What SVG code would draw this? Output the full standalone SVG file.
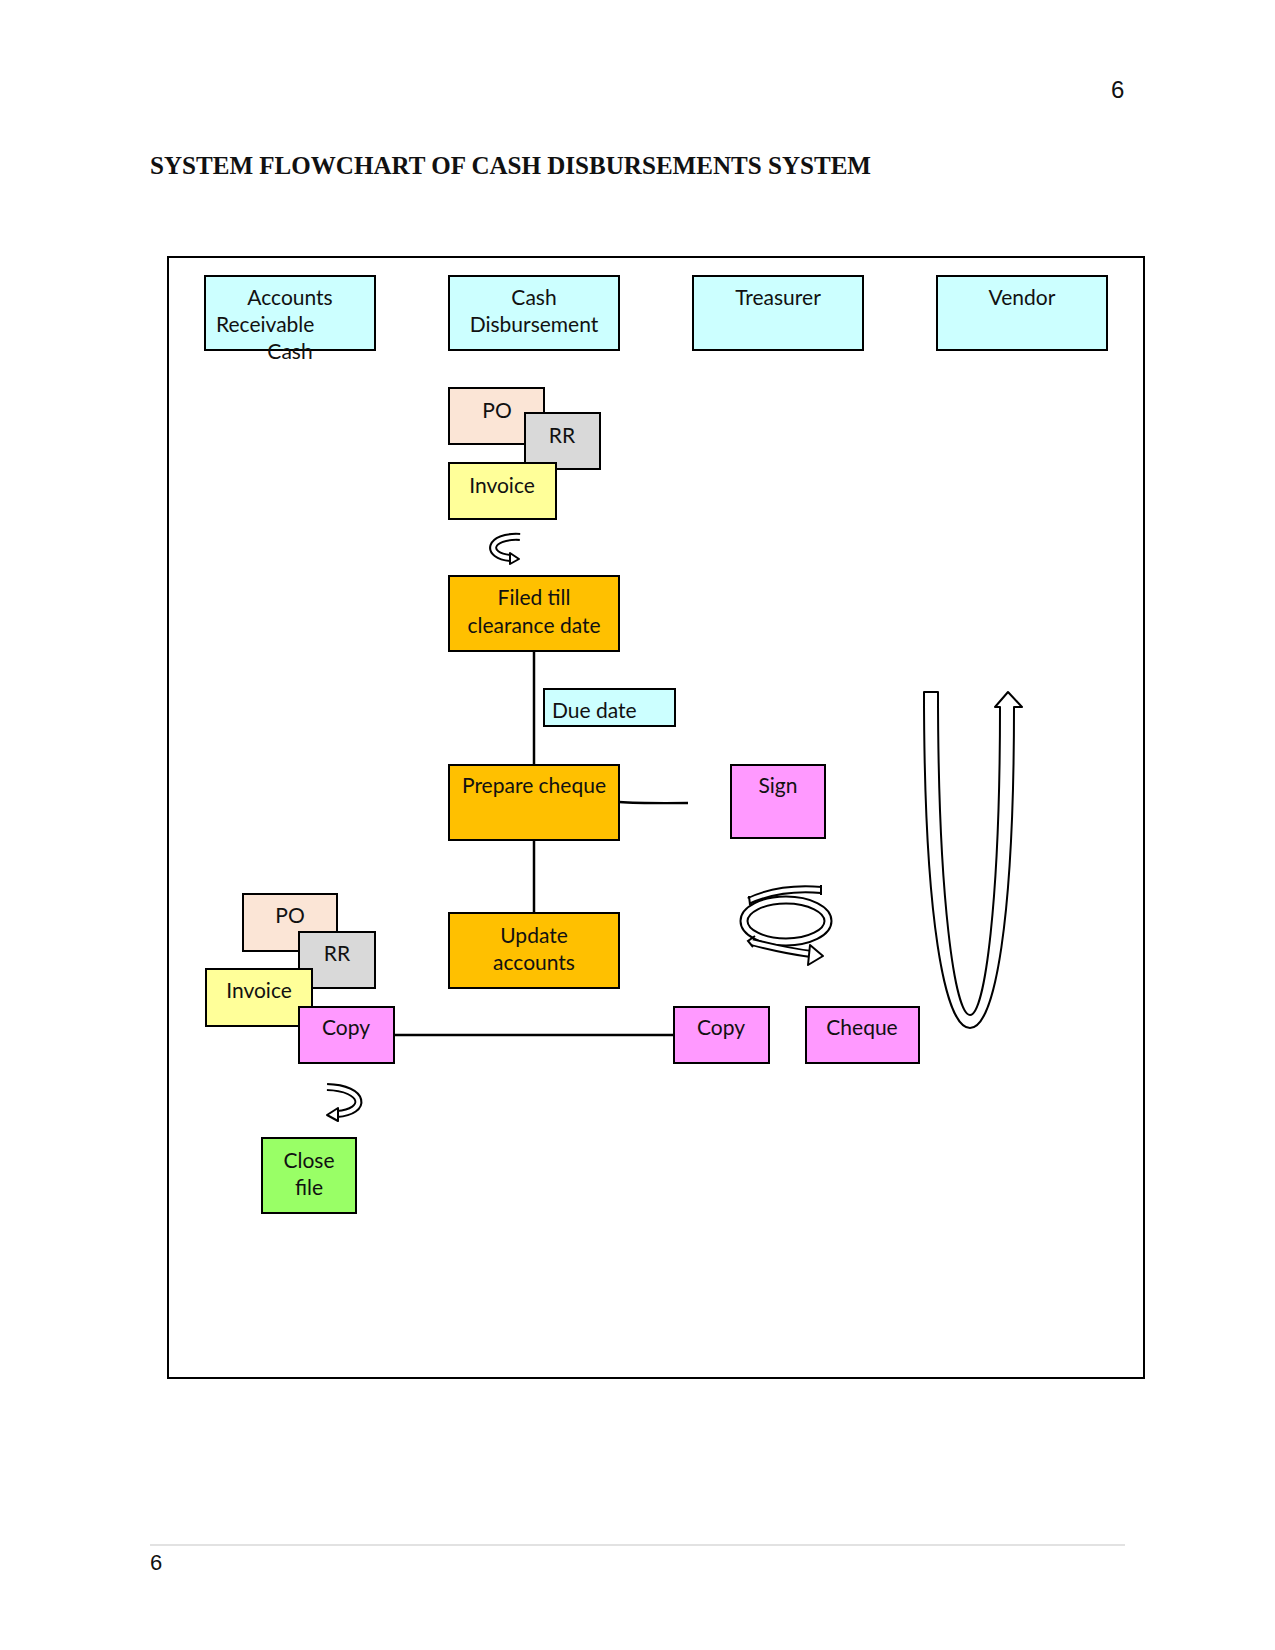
<svg xmlns="http://www.w3.org/2000/svg" width="1275" height="1650" viewBox="0 0 1275 1650">
  <style>
    .box { stroke: #000; stroke-width: 2; }
    .cyan { fill: #CCFFFF; }
    .peach { fill: #FBE5D6; }
    .grey { fill: #D9D9D9; }
    .yellow { fill: #FFFF99; }
    .orange { fill: #FFC000; }
    .pink { fill: #FF99FF; }
    .green { fill: #99FF66; }
    .lbl { font-family: Lato, "Liberation Sans", sans-serif; font-size: 21px; fill: #111; text-anchor: middle; }
    .lft { text-anchor: start; }
    .line { stroke: #000; stroke-width: 2.5; fill: none; }
    .band { fill: #fff; stroke: #000; stroke-width: 2; stroke-linejoin: round; }
    .bandOuter { fill: none; stroke: #000; stroke-width: 8; stroke-linecap: butt; }
    .bandInner { fill: none; stroke: #fff; stroke-width: 4; stroke-linecap: butt; }
  </style>

  <!-- page furniture -->
  <text x="1111" y="98" font-family="Liberation Sans, sans-serif" font-size="24" fill="#111">6</text>
  <text x="150" y="174" font-family="Liberation Serif, serif" font-weight="bold" font-size="25" fill="#111" textLength="721" lengthAdjust="spacingAndGlyphs">SYSTEM FLOWCHART OF CASH DISBURSEMENTS SYSTEM</text>
  <line x1="150" y1="1545" x2="1125" y2="1545" stroke="#D9D9D9" stroke-width="1.5"/>
  <text x="150" y="1570" font-family="Liberation Sans, sans-serif" font-size="22" fill="#111">6</text>

  <!-- frame -->
  <rect x="168" y="257" width="976" height="1121" fill="none" stroke="#000" stroke-width="2"/>

  <!-- connectors -->
  <g id="connectors">
    <line class="line" x1="534" y1="651" x2="534" y2="765"/>
    <line class="line" x1="534" y1="840" x2="534" y2="913"/>
    <path class="line" d="M619,802 Q640,803.5 688,803"/>
    <line class="line" x1="394" y1="1035" x2="674" y2="1035"/>
  </g>

  <!-- header nodes -->
  <g id="accounts-receivable-cash">
    <rect class="box cyan" x="205" y="276" width="170" height="74"/>
    <text class="lbl" x="290" y="305">Accounts</text>
    <text class="lbl lft" x="216" y="332">Receivable</text>
    <text class="lbl" x="290" y="359">Cash</text>
  </g>
  <g id="cash-disbursement">
    <rect class="box cyan" x="449" y="276" width="170" height="74"/>
    <text class="lbl" x="534" y="305">Cash</text>
    <text class="lbl" x="534" y="332">Disbursement</text>
  </g>
  <g id="treasurer">
    <rect class="box cyan" x="693" y="276" width="170" height="74"/>
    <text class="lbl" x="778" y="305">Treasurer</text>
  </g>
  <g id="vendor">
    <rect class="box cyan" x="937" y="276" width="170" height="74"/>
    <text class="lbl" x="1022" y="305">Vendor</text>
  </g>

  <!-- top document stack -->
  <g id="po-top">
    <rect class="box peach" x="449" y="388" width="95" height="56"/>
    <text class="lbl" x="497" y="418">PO</text>
  </g>
  <g id="rr-top">
    <rect class="box grey" x="525" y="413" width="75" height="56"/>
    <text class="lbl" x="562" y="443">RR</text>
  </g>
  <g id="invoice-top">
    <rect class="box yellow" x="449" y="463" width="107" height="56"/>
    <text class="lbl" x="502" y="493">Invoice</text>
  </g>

  <!-- top U-turn arrow -->
  <g id="uturn-top">
    <path class="bandOuter" d="M520,537 C488,535 484,556 511,558"/>
    <path class="bandInner" d="M521,537 C488,535 484,556 511,558"/>
    <polygon class="band" points="510,553 519,559 510,564"/>
  </g>

  <g id="filed-till-clearance-date">
    <rect class="box orange" x="449" y="576" width="170" height="75"/>
    <text class="lbl" x="534" y="605">Filed till</text>
    <text class="lbl" x="534" y="633">clearance date</text>
  </g>
  <g id="due-date">
    <rect class="box cyan" x="544" y="689" width="131" height="37"/>
    <text class="lbl lft" x="552" y="718">Due date</text>
  </g>
  <g id="prepare-cheque">
    <rect class="box orange" x="449" y="765" width="170" height="75"/>
    <text class="lbl" x="534" y="793">Prepare cheque</text>
  </g>
  <g id="sign">
    <rect class="box pink" x="731" y="765" width="94" height="73"/>
    <text class="lbl" x="778" y="793">Sign</text>
  </g>
  <g id="update-accounts">
    <rect class="box orange" x="449" y="913" width="170" height="75"/>
    <text class="lbl" x="534" y="943">Update</text>
    <text class="lbl" x="534" y="970">accounts</text>
  </g>

  <!-- swirl arrow -->
  <g id="swirl">
    <ellipse cx="786" cy="921" rx="42" ry="21" fill="none" stroke="#000" stroke-width="9"/>
    <ellipse cx="786" cy="921" rx="42" ry="21" fill="none" stroke="#fff" stroke-width="5"/>
    <path class="bandOuter" d="M749,901 C772,890 798,888 821,890"/>
    <path class="bandInner" d="M748,901 C772,890 798,888 822,890"/>
    <line x1="749" y1="896" x2="750" y2="905" stroke="#000" stroke-width="2"/>
    <line x1="821" y1="885" x2="821" y2="895" stroke="#000" stroke-width="2"/>
    <path class="bandOuter" d="M752,942 C775,948 795,952 811,954"/>
    <path class="bandInner" d="M751,942 C775,948 795,952 812,954"/>
    <polygon class="band" points="810,945 823,956 808,965"/>
    <polyline points="755,936 748,941 753,947" fill="none" stroke="#000" stroke-width="2"/>
  </g>

  <!-- big U arrow -->
  <g id="u-arrow">
    <path class="band" d="M924,692 L938,692 C938,900 955,1015 970,1015 C985,1015 1000,900 1000,707 L995,707 L1008,692 L1022,707 L1014,707 C1014,920 995,1028 970,1028 C945,1028 924,920 924,692 Z"/>
  </g>

  <!-- bottom document stack -->
  <g id="po-bottom">
    <rect class="box peach" x="243" y="894" width="94" height="57"/>
    <text class="lbl" x="290" y="923">PO</text>
  </g>
  <g id="rr-bottom">
    <rect class="box grey" x="299" y="932" width="76" height="56"/>
    <text class="lbl" x="337" y="961">RR</text>
  </g>
  <g id="invoice-bottom">
    <rect class="box yellow" x="206" y="969" width="106" height="57"/>
    <text class="lbl" x="259" y="998">Invoice</text>
  </g>
  <g id="copy-left">
    <rect class="box pink" x="299" y="1007" width="95" height="56"/>
    <text class="lbl" x="346" y="1035">Copy</text>
  </g>
  <g id="copy-right">
    <rect class="box pink" x="674" y="1007" width="95" height="56"/>
    <text class="lbl" x="721" y="1035">Copy</text>
  </g>
  <g id="cheque">
    <rect class="box pink" x="806" y="1007" width="113" height="56"/>
    <text class="lbl" x="862" y="1035">Cheque</text>
  </g>

  <!-- bottom U-turn arrow -->
  <g id="uturn-bottom">
    <path class="bandOuter" d="M327,1087 C366,1088 368,1112 337,1114"/>
    <path class="bandInner" d="M326,1087 C366,1088 368,1112 337,1114"/>
    <polygon class="band" points="338,1108 327,1115 338,1121"/>
  </g>

  <g id="close-file">
    <rect class="box green" x="262" y="1138" width="94" height="75"/>
    <text class="lbl" x="309" y="1168">Close</text>
    <text class="lbl" x="309" y="1195">file</text>
  </g>
</svg>
